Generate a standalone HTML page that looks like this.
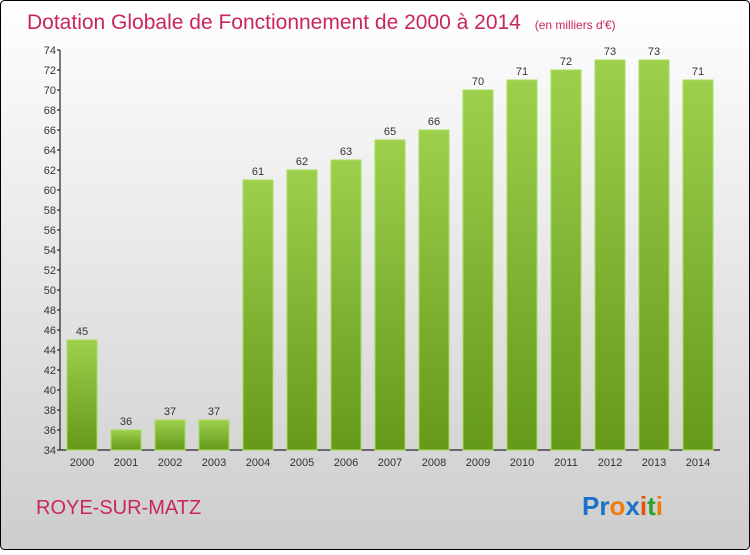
<!DOCTYPE html>
<html><head><meta charset="utf-8"><style>
html,body{margin:0;padding:0}
body{width:750px;height:550px;overflow:hidden}
</style></head><body>
<svg id="chart" width="750" height="550" xmlns="http://www.w3.org/2000/svg">
<defs>
<linearGradient id="bg" x1="0" y1="0" x2="0" y2="1"><stop offset="0" stop-color="#ffffff"/><stop offset="1" stop-color="#cdcdcd"/></linearGradient>
<linearGradient id="bar" x1="0" y1="0" x2="0" y2="1"><stop offset="0" stop-color="#9cd04c"/><stop offset="1" stop-color="#64991a"/></linearGradient>
</defs>
<rect x="0.5" y="0.5" width="749" height="549" rx="4" fill="url(#bg)" stroke="#000"/>
<text x="27" y="29" font-family="Liberation Sans, sans-serif" font-size="21" fill="#c8265c">Dotation Globale de Fonctionnement de 2000 à 2014 <tspan font-size="12" dx="8">(en milliers d'€)</tspan></text>
<text x="36" y="514" font-family="Liberation Sans, sans-serif" font-size="20" fill="#c8265c">ROYE-SUR-MATZ</text>
<text x="582" y="515" font-family="Liberation Sans, sans-serif" font-size="26" font-weight="bold"><tspan fill="#1a73c8">Pr</tspan><tspan fill="#f07c10">o</tspan><tspan fill="#1a73c8">x</tspan><tspan fill="#e85010">i</tspan><tspan fill="#30a030">t</tspan><tspan fill="#f07c10">i</tspan></text>
<g id="axes"></g>
<g id="bars"></g>
</svg>
<script>
const years=["2000","2001","2002","2003","2004","2005","2006","2007","2008","2009","2010","2011","2012","2013","2014"];
const values=[45,36,37,37,61,62,63,65,66,70,71,72,73,73,71];
const yTicks=[34,36,38,40,42,44,46,48,50,52,54,56,58,60,62,64,66,68,70,72,74];
const NS="http://www.w3.org/2000/svg";
const yMin=34,yMax=74,plotTop=50,plotBottom=450,x0=60,x1=720;
function y(v){return plotBottom-(v-yMin)/(yMax-yMin)*(plotBottom-plotTop);}
function xc(i){return 82+i*44;}
function mk(t,a,p){const e=document.createElementNS(NS,t);for(const k in a)e.setAttribute(k,a[k]);p.appendChild(e);return e;}
const ax=document.getElementById('axes'),bg=document.getElementById('bars');
const font="Liberation Sans, sans-serif";
let l=mk('line',{x1:x0,y1:plotTop,x2:x0,y2:plotBottom,stroke:'#000'},ax);


l=mk('line',{x1:x0,y1:plotBottom,x2:x1,y2:plotBottom,stroke:'#000'},ax);


yTicks.forEach(v=>{
 const t=mk('line',{x1:x0-3,y1:y(v),x2:x0,y2:y(v),stroke:'#000'},ax);
 
 
 const tx=mk('text',{x:x0-4,y:y(v)+4,'text-anchor':'end','font-family':font,'font-size':11,fill:'#333'},ax);
 tx.textContent=v;
 
 
});
years.forEach((yr,i)=>{
 const v=values[i];
 const r=mk('rect',{x:xc(i)-15,y:y(v),width:30,height:plotBottom-y(v),fill:'url(#bar)',stroke:'#a8dc5c','stroke-width':1},bg);
 
 
 const lb=mk('text',{x:xc(i),y:y(v)-5,'text-anchor':'middle','font-family':font,'font-size':11,fill:'#333'},bg);
 lb.textContent=v;
 
 
 const xl=mk('text',{x:xc(i),y:466,'text-anchor':'middle','font-family':font,'font-size':11,fill:'#333'},ax);
 xl.textContent=yr;
 
 
});
</script>
</body></html>
